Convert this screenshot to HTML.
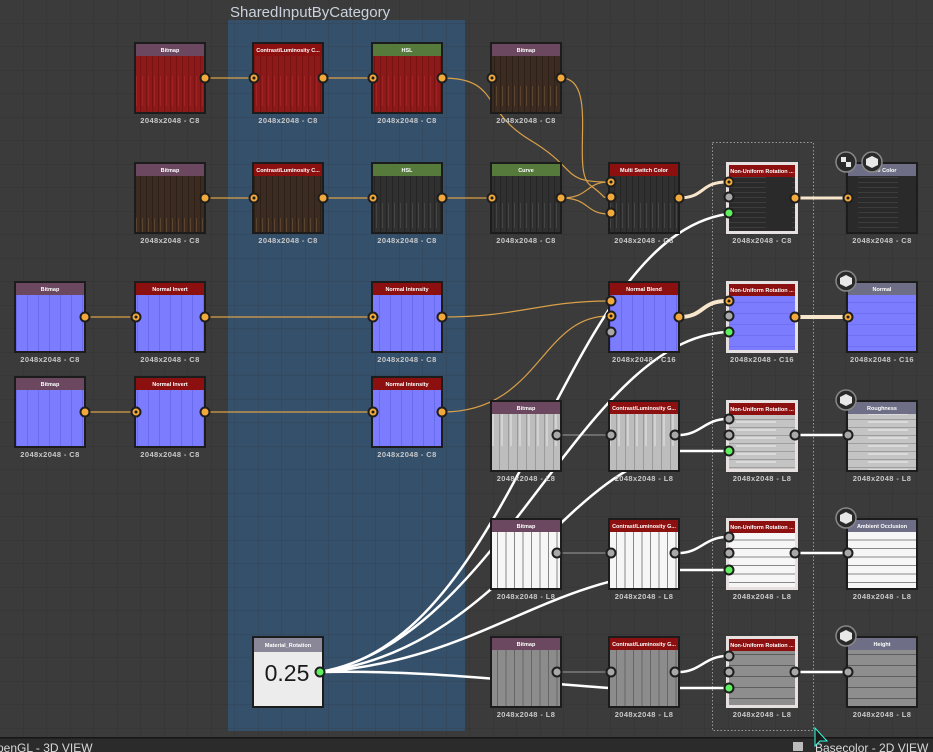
<!DOCTYPE html>
<html><head><meta charset="utf-8"><style>
html,body{margin:0;padding:0;background:#3b3b3b;width:933px;height:752px;overflow:hidden}
svg{display:block}
text{font-family:"Liberation Sans",sans-serif}
.h{font-size:5.5px;fill:#fff;text-anchor:middle;font-weight:bold}
.l{font-size:7.5px;fill:#c8c8c8;text-anchor:middle;font-weight:bold;letter-spacing:0.4px}
.po{fill:#f2a93b;stroke:#1e1e1e;stroke-width:2}
.pg{fill:#a8a8a8;stroke:#1e1e1e;stroke-width:2}
.pn{fill:#5ef05e;stroke:#1e1e1e;stroke-width:2}
.or{fill:none;stroke:#d9a048;stroke-width:1.2}
.wt{fill:none;stroke:#fff;stroke-width:2.5}
.cr{fill:none;stroke:#f7e6cc;stroke-width:3}
</style></head><body>
<svg width="933" height="752" viewBox="0 0 933 752">
<defs>
<pattern id="grid" width="23.5" height="23.5" patternUnits="userSpaceOnUse" x="0" y="0"><path d="M23.5 0V23.5H0" fill="none" stroke="#333" stroke-width="1"/></pattern>
<pattern id="red" width="6" height="66" patternUnits="userSpaceOnUse"><rect width="6" height="66" fill="#8c1a1a"/><rect x="2" width="1" height="66" fill="#7a1212"/><rect x="4" y="10" width="1" height="30" fill="#a02424"/></pattern>
<pattern id="brown" width="6" height="66" patternUnits="userSpaceOnUse"><rect width="6" height="66" fill="#3b2b20"/><rect x="2" width="1" height="66" fill="#2c2018"/><rect x="4" y="20" width="1" height="20" fill="#5a4430"/></pattern>
<pattern id="dgray" width="6" height="66" patternUnits="userSpaceOnUse"><rect width="6" height="66" fill="#303030"/><rect x="2" width="1" height="66" fill="#252525"/><rect x="4" y="5" width="1" height="25" fill="#444"/></pattern>
<pattern id="hdark" width="66" height="5" patternUnits="userSpaceOnUse"><rect width="66" height="5" fill="#2a2a2a"/><rect y="2" width="40" height="1" fill="#3c3c3c"/></pattern>
<pattern id="blue" width="11" height="66" patternUnits="userSpaceOnUse"><rect width="11" height="66" fill="#7c7cff"/><rect x="5" width="1" height="66" fill="#6a6af0"/></pattern>
<pattern id="lgray" width="9" height="66" patternUnits="userSpaceOnUse"><rect width="9" height="66" fill="#bdbdbd"/><rect x="4" width="1" height="66" fill="#9a9a9a"/><rect x="6" y="10" width="2" height="40" fill="#d2d2d2"/></pattern>
<pattern id="hlgray" width="66" height="8" patternUnits="userSpaceOnUse"><rect width="66" height="8" fill="#c4c4c4"/><rect y="3" width="66" height="1" fill="#9e9e9e"/><rect x="10" y="5" width="40" height="2" fill="#dadada"/></pattern>
<pattern id="white" width="8.5" height="66" patternUnits="userSpaceOnUse"><rect width="8.5" height="66" fill="#f6f6f6"/><rect x="4" width="1" height="66" fill="#888"/></pattern>
<pattern id="hwhite" width="66" height="8.5" patternUnits="userSpaceOnUse"><rect width="66" height="8.5" fill="#f6f6f6"/><rect y="4" width="66" height="1" fill="#888"/></pattern>
<pattern id="mgray" width="8.5" height="66" patternUnits="userSpaceOnUse"><rect width="8.5" height="66" fill="#8c8c8c"/><rect x="4" width="1" height="66" fill="#666"/></pattern>
<pattern id="hmgray" width="66" height="11" patternUnits="userSpaceOnUse"><rect width="66" height="11" fill="#8e8e8e"/><rect y="5" width="66" height="1" fill="#5e5e5e"/></pattern>
<pattern id="hblue" width="66" height="11" patternUnits="userSpaceOnUse"><rect width="66" height="11" fill="#7c7cff"/><rect y="5" width="66" height="1" fill="#7070f4"/></pattern>
</defs>
<rect width="933" height="752" fill="#3b3b3b"/>
<rect width="933" height="752" fill="url(#grid)"/>
<!-- frame -->
<rect x="228" y="20" width="237" height="711" fill="#35506b"/>
<rect x="228" y="20" width="237" height="711" fill="url(#grid)" opacity="0.4"/>
<text x="230" y="17" style="font-size:15px;fill:#c9d2de">SharedInputByCategory</text>
<rect x="712.5" y="142.5" width="101" height="588" fill="none" stroke="#9a9a9a" stroke-dasharray="1.5,2"/>

<!-- orange connections -->
<path class="or" d="M205 78H253M323 78H372M205 198H253M323 198H372M442 198H491M85 317H135M205 317H372M85 412H135M205 412H372"/>
<path class="or" d="M442 78C500 78 480 110 530 140S560 182 609 182"/>
<path class="or" d="M561 78C600 78 570 170 590 185S600 197 609 197"/>
<path class="or" d="M561 198C590 198 585 214 609 214"/>
<path class="or" d="M561 198C590 198 585 182 609 182"/>
<path class="or" d="M442 317C520 317 540 301 609 301"/>
<path class="or" d="M442 412C540 412 540 316 609 316"/>
<!-- gray thin -->
<path d="M561 435H609M561 553H609M561 672H609" fill="none" stroke="#888" stroke-width="1.2"/>
<!-- white material rotation lines -->
<path class="wt" d="M320 672C520 640 560 240 727 214"/>
<path class="wt" d="M320 672C500 640 580 340 727 332"/>
<path class="wt" d="M320 672C500 650 560 470 679 451"/>
<path class="wt" d="M320 672C480 660 540 580 679 570"/>
<path class="wt" d="M320 672C420 670 500 680 609 688"/>
<path class="wt" d="M679 451C700 451 710 451 727 451M679 570H727M679 688H727"/>
<path class="wt" d="M679 435C700 435 705 419 727 419M679 553C700 553 705 537 727 537M679 672C700 672 705 656 727 656"/>
<path class="wt" d="M797 435H847M797 553H847M797 672H847"/>
<path class="cr" d="M679 198C705 198 700 182 727 182M797 198H847"/>
<path class="cr" d="M679 317C705 317 700 301 727 301M797 317H847" style="stroke-width:4"/>

<!-- nodes -->
<g id="nodes">
<!-- row1 -->
<rect x="134" y="42" width="72" height="72" fill="#1c1c1c"/><rect x="136" y="44" width="68" height="68" fill="url(#red)"/><rect x="136" y="44" width="68" height="12" fill="#6b4760"/><text class="h" x="170" y="52">Bitmap</text>
<rect x="252" y="42" width="72" height="72" fill="#1c1c1c"/><rect x="254" y="44" width="68" height="68" fill="url(#red)"/><rect x="254" y="44" width="68" height="12" fill="#8c1010"/><text class="h" x="288" y="52">Contrast/Luminosity C...</text>
<rect x="371" y="42" width="72" height="72" fill="#1c1c1c"/><rect x="373" y="44" width="68" height="68" fill="url(#red)"/><rect x="373" y="44" width="68" height="12" fill="#567a3c"/><text class="h" x="407" y="52">HSL</text>
<rect x="490" y="42" width="72" height="72" fill="#1c1c1c"/><rect x="492" y="44" width="68" height="68" fill="url(#brown)"/><rect x="492" y="44" width="68" height="12" fill="#6b4760"/><text class="h" x="526" y="52">Bitmap</text>
<!-- row2 -->
<rect x="134" y="162" width="72" height="72" fill="#1c1c1c"/><rect x="136" y="164" width="68" height="68" fill="url(#brown)"/><rect x="136" y="164" width="68" height="12" fill="#6b4760"/><text class="h" x="170" y="172">Bitmap</text>
<rect x="252" y="162" width="72" height="72" fill="#1c1c1c"/><rect x="254" y="164" width="68" height="68" fill="url(#brown)"/><rect x="254" y="164" width="68" height="12" fill="#8c1010"/><text class="h" x="288" y="172">Contrast/Luminosity C...</text>
<rect x="371" y="162" width="72" height="72" fill="#1c1c1c"/><rect x="373" y="164" width="68" height="68" fill="url(#dgray)"/><rect x="373" y="164" width="68" height="12" fill="#567a3c"/><text class="h" x="407" y="172">HSL</text>
<rect x="490" y="162" width="72" height="72" fill="#1c1c1c"/><rect x="492" y="164" width="68" height="68" fill="url(#dgray)"/><rect x="492" y="164" width="68" height="12" fill="#567a3c"/><text class="h" x="526" y="172">Curve</text>
<rect x="608" y="162" width="72" height="72" fill="#1c1c1c"/><rect x="610" y="164" width="68" height="68" fill="url(#dgray)"/><rect x="610" y="164" width="68" height="12" fill="#8c1010"/><text class="h" x="644" y="172">Multi Switch Color</text>
<rect x="726" y="162" width="72" height="72" fill="#e6e0e0"/><rect x="729" y="165" width="66" height="66" fill="url(#hdark)"/><rect x="729" y="165" width="66" height="12" fill="#8c1010"/><text class="h" x="762" y="173">Non-Uniform Rotation ...</text>
<rect x="846" y="162" width="72" height="72" fill="#1c1c1c"/><rect x="848" y="164" width="68" height="68" fill="url(#hdark)"/><rect x="848" y="164" width="68" height="12" fill="#6e6e86"/><text class="h" x="882" y="172">Base Color</text>
<!-- row3 -->
<rect x="14" y="281" width="72" height="72" fill="#1c1c1c"/><rect x="16" y="283" width="68" height="68" fill="url(#blue)"/><rect x="16" y="283" width="68" height="12" fill="#6b4760"/><text class="h" x="50" y="291">Bitmap</text>
<rect x="134" y="281" width="72" height="72" fill="#1c1c1c"/><rect x="136" y="283" width="68" height="68" fill="url(#blue)"/><rect x="136" y="283" width="68" height="12" fill="#8c1010"/><text class="h" x="170" y="291">Normal Invert</text>
<rect x="371" y="281" width="72" height="72" fill="#1c1c1c"/><rect x="373" y="283" width="68" height="68" fill="url(#blue)"/><rect x="373" y="283" width="68" height="12" fill="#8c1010"/><text class="h" x="407" y="291">Normal Intensity</text>
<rect x="608" y="281" width="72" height="72" fill="#1c1c1c"/><rect x="610" y="283" width="68" height="68" fill="url(#blue)"/><rect x="610" y="283" width="68" height="12" fill="#8c1010"/><text class="h" x="644" y="291">Normal Blend</text>
<rect x="726" y="281" width="72" height="72" fill="#e6e0e0"/><rect x="729" y="284" width="66" height="66" fill="url(#hblue)"/><rect x="729" y="284" width="66" height="12" fill="#8c1010"/><text class="h" x="762" y="292">Non-Uniform Rotation ...</text>
<rect x="846" y="281" width="72" height="72" fill="#1c1c1c"/><rect x="848" y="283" width="68" height="68" fill="url(#hblue)"/><rect x="848" y="283" width="68" height="12" fill="#6e6e86"/><text class="h" x="882" y="291">Normal</text>
<!-- row4 -->
<rect x="14" y="376" width="72" height="72" fill="#1c1c1c"/><rect x="16" y="378" width="68" height="68" fill="url(#blue)"/><rect x="16" y="378" width="68" height="12" fill="#6b4760"/><text class="h" x="50" y="386">Bitmap</text>
<rect x="134" y="376" width="72" height="72" fill="#1c1c1c"/><rect x="136" y="378" width="68" height="68" fill="url(#blue)"/><rect x="136" y="378" width="68" height="12" fill="#8c1010"/><text class="h" x="170" y="386">Normal Invert</text>
<rect x="371" y="376" width="72" height="72" fill="#1c1c1c"/><rect x="373" y="378" width="68" height="68" fill="url(#blue)"/><rect x="373" y="378" width="68" height="12" fill="#8c1010"/><text class="h" x="407" y="386">Normal Intensity</text>
<!-- row5 -->
<rect x="490" y="400" width="72" height="72" fill="#1c1c1c"/><rect x="492" y="402" width="68" height="68" fill="url(#lgray)"/><rect x="492" y="402" width="68" height="12" fill="#6b4760"/><text class="h" x="526" y="410">Bitmap</text>
<rect x="608" y="400" width="72" height="72" fill="#1c1c1c"/><rect x="610" y="402" width="68" height="68" fill="url(#lgray)"/><rect x="610" y="402" width="68" height="12" fill="#8c1010"/><text class="h" x="644" y="410">Contrast/Luminosity G...</text>
<rect x="726" y="400" width="72" height="72" fill="#e6e0e0"/><rect x="729" y="403" width="66" height="66" fill="url(#hlgray)"/><rect x="729" y="403" width="66" height="12" fill="#8c1010"/><text class="h" x="762" y="411">Non-Uniform Rotation ...</text>
<rect x="846" y="400" width="72" height="72" fill="#1c1c1c"/><rect x="848" y="402" width="68" height="68" fill="url(#hlgray)"/><rect x="848" y="402" width="68" height="12" fill="#6e6e86"/><text class="h" x="882" y="410">Roughness</text>
<!-- row6 -->
<rect x="490" y="518" width="72" height="72" fill="#1c1c1c"/><rect x="492" y="520" width="68" height="68" fill="url(#white)"/><rect x="492" y="520" width="68" height="12" fill="#6b4760"/><text class="h" x="526" y="528">Bitmap</text>
<rect x="608" y="518" width="72" height="72" fill="#1c1c1c"/><rect x="610" y="520" width="68" height="68" fill="url(#white)"/><rect x="610" y="520" width="68" height="12" fill="#8c1010"/><text class="h" x="644" y="528">Contrast/Luminosity G...</text>
<rect x="726" y="518" width="72" height="72" fill="#e6e0e0"/><rect x="729" y="521" width="66" height="66" fill="url(#hwhite)"/><rect x="729" y="521" width="66" height="12" fill="#8c1010"/><text class="h" x="762" y="529">Non-Uniform Rotation ...</text>
<rect x="846" y="518" width="72" height="72" fill="#1c1c1c"/><rect x="848" y="520" width="68" height="68" fill="url(#hwhite)"/><rect x="848" y="520" width="68" height="12" fill="#6e6e86"/><text class="h" x="882" y="528">Ambient Occlusion</text>
<!-- row7 -->
<rect x="252" y="636" width="72" height="72" fill="#1c1c1c"/><rect x="254" y="638" width="68" height="68" fill="#ececec"/><rect x="254" y="638" width="68" height="14" fill="#8a8898"/><text class="h" x="288" y="647">Material_Rotation</text><text x="287" y="681" style="font-size:23px;fill:#1a1a1a;text-anchor:middle">0.25</text>
<rect x="490" y="636" width="72" height="72" fill="#1c1c1c"/><rect x="492" y="638" width="68" height="68" fill="url(#mgray)"/><rect x="492" y="638" width="68" height="12" fill="#6b4760"/><text class="h" x="526" y="646">Bitmap</text>
<rect x="608" y="636" width="72" height="72" fill="#1c1c1c"/><rect x="610" y="638" width="68" height="68" fill="url(#mgray)"/><rect x="610" y="638" width="68" height="12" fill="#8c1010"/><text class="h" x="644" y="646">Contrast/Luminosity G...</text>
<rect x="726" y="636" width="72" height="72" fill="#e6e0e0"/><rect x="729" y="639" width="66" height="66" fill="url(#hmgray)"/><rect x="729" y="639" width="66" height="12" fill="#8c1010"/><text class="h" x="762" y="647">Non-Uniform Rotation ...</text>
<rect x="846" y="636" width="72" height="72" fill="#1c1c1c"/><rect x="848" y="638" width="68" height="68" fill="url(#hmgray)"/><rect x="848" y="638" width="68" height="12" fill="#6e6e86"/><text class="h" x="882" y="646">Height</text>
</g>

<!-- labels -->
<g>
<text class="l" x="170" y="123">2048x2048 - C8</text><text class="l" x="288" y="123">2048x2048 - C8</text><text class="l" x="407" y="123">2048x2048 - C8</text><text class="l" x="526" y="123">2048x2048 - C8</text>
<text class="l" x="170" y="243">2048x2048 - C8</text><text class="l" x="288" y="243">2048x2048 - C8</text><text class="l" x="407" y="243">2048x2048 - C8</text><text class="l" x="526" y="243">2048x2048 - C8</text><text class="l" x="644" y="243">2048x2048 - C8</text><text class="l" x="762" y="243">2048x2048 - C8</text><text class="l" x="882" y="243">2048x2048 - C8</text>
<text class="l" x="50" y="362">2048x2048 - C8</text><text class="l" x="170" y="362">2048x2048 - C8</text><text class="l" x="407" y="362">2048x2048 - C8</text><text class="l" x="644" y="362">2048x2048 - C16</text><text class="l" x="762" y="362">2048x2048 - C16</text><text class="l" x="882" y="362">2048x2048 - C16</text>
<text class="l" x="50" y="457">2048x2048 - C8</text><text class="l" x="170" y="457">2048x2048 - C8</text><text class="l" x="407" y="457">2048x2048 - C8</text>
<text class="l" x="526" y="481">2048x2048 - L8</text><text class="l" x="644" y="481">2048x2048 - L8</text><text class="l" x="762" y="481">2048x2048 - L8</text><text class="l" x="882" y="481">2048x2048 - L8</text>
<text class="l" x="526" y="599">2048x2048 - L8</text><text class="l" x="644" y="599">2048x2048 - L8</text><text class="l" x="762" y="599">2048x2048 - L8</text><text class="l" x="882" y="599">2048x2048 - L8</text>
<text class="l" x="526" y="717">2048x2048 - L8</text><text class="l" x="644" y="717">2048x2048 - L8</text><text class="l" x="762" y="717">2048x2048 - L8</text><text class="l" x="882" y="717">2048x2048 - L8</text>
</g>

<!-- ports -->
<g>
<circle class="po" cx="205" cy="78" r="4.5"/><circle class="po" cx="254" cy="78" r="4.5"/><circle class="po" cx="323" cy="78" r="4.5"/><circle class="po" cx="373" cy="78" r="4.5"/><circle class="po" cx="442" cy="78" r="4.5"/><circle class="po" cx="492" cy="78" r="4.5"/><circle class="po" cx="561" cy="78" r="4.5"/>
<circle class="po" cx="205" cy="198" r="4.5"/><circle class="po" cx="254" cy="198" r="4.5"/><circle class="po" cx="323" cy="198" r="4.5"/><circle class="po" cx="373" cy="198" r="4.5"/><circle class="po" cx="442" cy="198" r="4.5"/><circle class="po" cx="492" cy="198" r="4.5"/><circle class="po" cx="561" cy="198" r="4.5"/>
<circle class="po" cx="611" cy="182" r="4.5"/><circle class="po" cx="611" cy="197" r="4.5"/><circle class="po" cx="611" cy="213" r="4.5"/><circle class="po" cx="679" cy="198" r="4.5"/>
<circle class="po" cx="729" cy="182" r="4.5"/><circle class="pg" cx="729" cy="197" r="4.5"/><circle class="pn" cx="729" cy="213" r="4.5"/><circle class="po" cx="795" cy="198" r="4.5"/><circle class="po" cx="848" cy="198" r="4.5"/>
<circle class="po" cx="85" cy="317" r="4.5"/><circle class="po" cx="136" cy="317" r="4.5"/><circle class="po" cx="205" cy="317" r="4.5"/><circle class="po" cx="373" cy="317" r="4.5"/><circle class="po" cx="442" cy="317" r="4.5"/>
<circle class="po" cx="611" cy="301" r="4.5"/><circle class="po" cx="611" cy="316" r="4.5"/><circle class="pg" cx="611" cy="332" r="4.5"/><circle class="po" cx="679" cy="317" r="4.5"/>
<circle class="po" cx="729" cy="301" r="4.5"/><circle class="pg" cx="729" cy="316" r="4.5"/><circle class="pn" cx="729" cy="332" r="4.5"/><circle class="po" cx="795" cy="317" r="4.5"/><circle class="po" cx="848" cy="317" r="4.5"/>
<circle class="po" cx="85" cy="412" r="4.5"/><circle class="po" cx="136" cy="412" r="4.5"/><circle class="po" cx="205" cy="412" r="4.5"/><circle class="po" cx="373" cy="412" r="4.5"/><circle class="po" cx="442" cy="412" r="4.5"/>
<circle class="pg" cx="557" cy="435" r="4.5"/><circle class="pg" cx="611" cy="435" r="4.5"/><circle class="pg" cx="675" cy="435" r="4.5"/><circle class="pg" cx="729" cy="419" r="4.5"/><circle class="pg" cx="729" cy="435" r="4.5"/><circle class="pn" cx="729" cy="451" r="4.5"/><circle class="pg" cx="795" cy="435" r="4.5"/><circle class="pg" cx="848" cy="435" r="4.5"/>
<circle class="pg" cx="557" cy="553" r="4.5"/><circle class="pg" cx="611" cy="553" r="4.5"/><circle class="pg" cx="675" cy="553" r="4.5"/><circle class="pg" cx="729" cy="537" r="4.5"/><circle class="pg" cx="729" cy="553" r="4.5"/><circle class="pn" cx="729" cy="570" r="4.5"/><circle class="pg" cx="795" cy="553" r="4.5"/><circle class="pg" cx="848" cy="553" r="4.5"/>
<circle class="pn" cx="320" cy="672" r="4.5"/>
<circle class="pg" cx="557" cy="672" r="4.5"/><circle class="pg" cx="611" cy="672" r="4.5"/><circle class="pg" cx="675" cy="672" r="4.5"/><circle class="pg" cx="729" cy="656" r="4.5"/><circle class="pg" cx="729" cy="672" r="4.5"/><circle class="pn" cx="729" cy="688" r="4.5"/><circle class="pg" cx="795" cy="672" r="4.5"/><circle class="pg" cx="848" cy="672" r="4.5"/>
</g>
<g fill="#1e1e1e">
<circle cx="254" cy="78" r="1.5"/><circle cx="373" cy="78" r="1.5"/><circle cx="492" cy="78" r="1.5"/><circle cx="254" cy="198" r="1.5"/><circle cx="373" cy="198" r="1.5"/><circle cx="492" cy="198" r="1.5"/><circle cx="136" cy="317" r="1.5"/><circle cx="373" cy="317" r="1.5"/><circle cx="136" cy="412" r="1.5"/><circle cx="373" cy="412" r="1.5"/><circle cx="611" cy="182" r="1.5"/><circle cx="729" cy="182" r="1.5"/><circle cx="611" cy="316" r="1.5"/><circle cx="729" cy="301" r="1.5"/><circle cx="848" cy="198" r="1.5"/><circle cx="848" cy="317" r="1.5"/>
</g>
<!-- output icons -->
<g stroke="#888" stroke-width="1.5" fill="#2a2a2a">
<circle cx="846" cy="162" r="10"/><circle cx="872" cy="162" r="10"/><circle cx="846" cy="281" r="10"/><circle cx="846" cy="400" r="10"/><circle cx="846" cy="518" r="10"/><circle cx="846" cy="636" r="10"/>
</g>
<g fill="#e8e8e8">
<rect x="841" y="157" width="5" height="5"/><rect x="846" y="162" width="5" height="5"/>
<path d="M872 156l6 3v6l-6 3l-6-3v-6z"/><path d="M846 275l6 3v6l-6 3l-6-3v-6z"/><path d="M846 394l6 3v6l-6 3l-6-3v-6z"/><path d="M846 512l6 3v6l-6 3l-6-3v-6z"/><path d="M846 630l6 3v6l-6 3l-6-3v-6z"/>
</g>
<!-- bottom bar -->
<rect x="0" y="737" width="933" height="15" fill="#2b2b2b"/>
<rect x="0" y="737" width="933" height="1.5" fill="#161616"/>
<text x="-3" y="752" style="font-size:12px;fill:#d8d8d8">penGL - 3D VIEW</text>
<text x="815" y="752" style="font-size:12px;fill:#d8d8d8">Basecolor - 2D VIEW</text>
<rect x="793" y="742" width="10" height="9" fill="#bbb"/>
<path d="M815 728l0 18l5-5l7 0z" fill="#1a1a1a" stroke="#3fd" stroke-width="1"/>
</svg>
</body></html>
